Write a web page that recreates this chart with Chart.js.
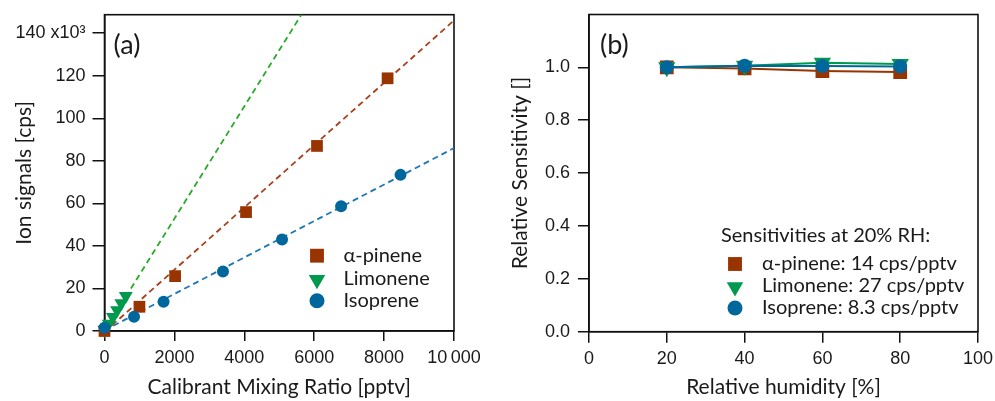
<!DOCTYPE html>
<html><head><meta charset="utf-8">
<script src="https://cdn.jsdelivr.net/npm/chart.js@4/dist/chart.umd.min.js"></script>
<style>
html,body{margin:0;padding:0;background:#fff;}
#wrap{position:relative;width:995px;height:401px;overflow:hidden;background:#fff}
.p{position:absolute;top:0;height:401px}
</style></head><body>
<div id="wrap">
<div class="p" style="left:0;width:497px"><canvas id="ca"></canvas></div>
<div class="p" style="left:497px;width:498px"><canvas id="cb"></canvas></div>
</div>
<script>
// ---- Panel (a): calibration ----
const pineneX = [0, 1000, 2020, 4050, 6080, 8100];
const pineneY = [0, 11.4, 25.8, 55.9, 87.0, 118.8];
const limoneneX = [0, 120, 240, 360, 480, 610];
const limoneneY = [0.5, 3.4, 6.6, 9.8, 13.0, 16.4];
const isopreneX = [0, 845, 1690, 3390, 5080, 6770, 8470];
const isopreneY = [1.5, 6.7, 13.8, 28.0, 43.0, 58.7, 73.4];
const fitX = [0, 10000];
const pineneFitY = [-0.5, 146];
const limoneneFitY = [0, 264];
const isopreneFitY = [0.3, 86];
// ---- Panel (b): humidity dependence ----
const rh = [20, 40, 60, 80];
const pineneRel = [1.0, 0.996, 0.986, 0.982];
const limoneneRel = [1.0, 1.006, 1.017, 1.013];
const isopreneRel = [1.0, 1.006, 1.005, 1.003];
// ---- ticks / labels ----
const xTicksA = [0, 2000, 4000, 6000, 8000, 10000];
const yTicksA = [0, 20, 40, 60, 80, 100, 120, 140];
const xTicksB = [0, 20, 40, 60, 80, 100];
const yTicksB = [0, 0.2, 0.4, 0.6, 0.8, 1.0];
const seriesNames = ['α-pinene', 'Limonene', 'Isoprene'];
const sensitivities = ['14', '27', '8.3'];

const COL = { pin: '#993300', lim: '#00994d', iso: '#00679c' };
const FIT = { pin: '#a8401a', lim: '#2aaa2a', iso: '#1f78b4' };
const TXT = '#1a1a1a';
const TF = 'Lato, "Open Sans", sans-serif';
const NF = '"Liberation Sans", Arial, sans-serif';

const mk = {
  pin: { pointStyle: 'rect', pointRadius: 8.3, pointRotation: 0 },
  lim: { pointStyle: 'triangle', pointRadius: 8, pointRotation: 180 },
  iso: { pointStyle: 'circle', pointRadius: 6, pointRotation: 0 }
};
const pts = (xs, ys) => xs.map((x, i) => ({ x, y: ys[i] }));

function drawMarker(ctx, style, r, rot, x, y, color) {
  ctx.fillStyle = color;
  if (Chart.helpers && Chart.helpers.drawPoint) {
    Chart.helpers.drawPoint(ctx, { pointStyle: style, radius: r, rotation: rot, borderWidth: 0 }, x, y);
    return;
  }
  ctx.beginPath();
  if (style === 'rect') ctx.rect(x - r * 0.707, y - r * 0.707, r * 1.414, r * 1.414);
  else if (style === 'circle') ctx.arc(x, y, r, 0, Math.PI * 2);
  else { ctx.moveTo(x, y + r); ctx.lineTo(x - r * 0.866, y - r / 2); ctx.lineTo(x + r * 0.866, y - r / 2); ctx.closePath(); }
  ctx.fill();
}

const deco = {
  id: 'deco',
  beforeDatasetsDraw(chart, args, o) {
    const { ctx, chartArea: a } = chart;
    ctx.save();
    ctx.strokeStyle = '#111'; ctx.lineWidth = 1.6;
    ctx.strokeRect(a.left, a.top, a.right - a.left, a.bottom - a.top);
    ctx.restore();
  },
  afterDatasetsDraw(chart, args, o) {
    const { ctx, chartArea: a } = chart;
    ctx.save();
    ctx.fillStyle = TXT; ctx.textBaseline = 'middle'; ctx.textAlign = 'left';
    ctx.font = '27px ' + TF;
    ctx.fillText(o.label, a.left + o.labelDx, a.top + o.labelDy);
    ctx.font = o.legendSize + 'px ' + TF;
    if (o.title) ctx.fillText(o.title, a.left + o.titleDx, a.top + o.titleDy);
    o.items.forEach((it, i) => {
      const ds = chart.data.datasets[it.ds];
      const y = a.top + o.ys[i];
      drawMarker(ctx, ds.pointStyle, ds.pointRadius + o.grow, ds.pointRotation, a.left + o.markDx, y + (ds.pointStyle === 'triangle' ? 1 : 0), ds.backgroundColor);
      ctx.fillStyle = TXT;
      ctx.fillText(it.text, a.left + o.textDx, y);
    });
    ctx.restore();
  }
};

function axisCommon(extra) {
  return Object.assign({
    type: 'linear',
    grid: { drawOnChartArea: false, drawTicks: true, color: '#111', lineWidth: 1.5 },
    border: { display: true, color: '#111', width: 1.6 },
    ticks: { color: TXT, font: { family: NF, size: 18 } }
  }, extra);
}
const fitX_ = h => s => { s.height = h; s.paddingLeft = 0; s.paddingRight = 0; };
const fitY_ = w => s => { s.width = w; s.paddingTop = 0; s.paddingBottom = 0; };

// ---------- Chart (a) ----------
new Chart(document.getElementById('ca'), {
  type: 'scatter',
  data: {
    datasets: [
      Object.assign({ label: seriesNames[0], data: pts(pineneX, pineneY), backgroundColor: COL.pin, borderWidth: 0, clip: false, order: 1 }, mk.pin),
      Object.assign({ label: seriesNames[1], data: pts(limoneneX, limoneneY), backgroundColor: COL.lim, borderWidth: 0, clip: false, order: 2 }, mk.lim),
      Object.assign({ label: seriesNames[2], data: pts(isopreneX, isopreneY), backgroundColor: COL.iso, borderWidth: 0, clip: false, order: 0 }, mk.iso),
      { data: pts(fitX, pineneFitY), showLine: true, borderColor: FIT.pin, borderWidth: 1.8, borderDash: [6, 4], pointRadius: 0, order: 5 },
      { data: pts(fitX, limoneneFitY), showLine: true, borderColor: FIT.lim, borderWidth: 1.8, borderDash: [6, 4], pointRadius: 0, order: 5 },
      { data: pts(fitX, isopreneFitY), showLine: true, borderColor: FIT.iso, borderWidth: 1.8, borderDash: [6, 4], pointRadius: 0, order: 5 }
    ]
  },
  options: {
    responsive: true, maintainAspectRatio: false, animation: false,
    layout: { padding: { top: 14.7, right: 43, left: 0, bottom: 0 } },
    plugins: {
      legend: { display: false }, tooltip: { enabled: false },
      deco: {
        label: '(a)', labelDx: 9, labelDy: 31, legendSize: 20, grow: 1.5,
        markDx: 212.5, textDx: 239, ys: [241, 264, 286],
        items: [{ ds: 0, text: seriesNames[0] }, { ds: 1, text: seriesNames[1] }, { ds: 2, text: seriesNames[2] }]
      }
    },
    scales: {
      x: axisCommon({
        min: 0, max: 10000, position: 'bottom',
        afterBuildTicks: s => { s.ticks = xTicksA.map(v => ({ value: v })); },
        afterFit: fitX_(70),
        grid: { drawOnChartArea: false, color: '#111', lineWidth: 1.5, tickLength: 10 },
        ticks: { color: TXT, font: { family: NF, size: 18 }, padding: 6, maxRotation: 0,
          callback: v => v === 10000 ? '10\u2009000' : String(v) },
        title: { display: true, text: 'Calibrant Mixing Ratio [pptv]', color: TXT, font: { family: TF, size: 21 }, padding: { top: 0, bottom: 1 } }
      }),
      y: axisCommon({
        min: 0, max: 148.7, position: 'left',
        afterBuildTicks: s => { s.ticks = yTicksA.map(v => ({ value: v })); },
        afterFit: fitY_(104.5),
        grid: { drawOnChartArea: false, color: '#111', lineWidth: 1.5, tickLength: 12 },
        ticks: { color: TXT, font: { family: NF, size: 18 }, padding: 7,
          callback: v => v === 140 ? '140 x10\u00B3' : String(v) },
        title: { display: true, text: 'Ion signals [cps]', color: TXT, font: { family: TF, size: 21 }, padding: { top: 12, bottom: 0 } }
      })
    }
  },
  plugins: [deco]
});

// ---------- Chart (b) ----------
new Chart(document.getElementById('cb'), {
  type: 'scatter',
  data: {
    datasets: [
      Object.assign({ label: seriesNames[0], data: pts(rh, pineneRel), backgroundColor: COL.pin, borderColor: COL.pin, borderWidth: 2, showLine: true, clip: false, order: 2 }, mk.pin),
      Object.assign({ label: seriesNames[1], data: pts(rh, limoneneRel), backgroundColor: COL.lim, borderColor: COL.lim, borderWidth: 2, showLine: true, clip: false, order: 1 }, mk.lim),
      Object.assign({ label: seriesNames[2], data: pts(rh, isopreneRel), backgroundColor: COL.iso, borderColor: COL.iso, borderWidth: 2, showLine: true, clip: false, order: 0 }, mk.iso)
    ]
  },
  options: {
    responsive: true, maintainAspectRatio: false, animation: false,
    layout: { padding: { top: 14.5, right: 17, left: 0, bottom: 0 } },
    plugins: {
      legend: { display: false }, tooltip: { enabled: false },
      deco: {
        label: '(b)', labelDx: 11, labelDy: 31, legendSize: 20, grow: 1.5,
        title: 'Sensitivities at 20% RH:', titleDx: 132, titleDy: 221.5,
        markDx: 146, textDx: 173, ys: [249.5, 271.5, 293.5],
        items: [0, 1, 2].map(i => ({ ds: i, text: seriesNames[i] + ': ' + sensitivities[i] + ' cps/pptv' }))
      }
    },
    scales: {
      x: axisCommon({
        min: 0, max: 100, position: 'bottom',
        afterBuildTicks: s => { s.ticks = xTicksB.map(v => ({ value: v })); },
        afterFit: fitX_(69.3),
        grid: { drawOnChartArea: false, color: '#111', lineWidth: 1.5, tickLength: 11 },
        ticks: { color: TXT, font: { family: NF, size: 18 }, padding: 6, maxRotation: 0 },
        title: { display: true, text: 'Relative humidity [%]', color: TXT, font: { family: TF, size: 21 }, padding: { top: 0, bottom: 1 } }
      }),
      y: axisCommon({
        min: 0, max: 1.2, position: 'left',
        afterBuildTicks: s => { s.ticks = yTicksB.map(v => ({ value: v })); },
        afterFit: fitY_(92),
        grid: { drawOnChartArea: false, color: '#111', lineWidth: 1.5, tickLength: 11 },
        ticks: { color: TXT, font: { family: NF, size: 18 }, padding: 8, callback: v => v.toFixed(1) },
        title: { display: true, text: 'Relative Sensitivity []', color: TXT, font: { family: TF, size: 21 }, padding: { top: 11, bottom: 0 } }
      })
    }
  },
  plugins: [deco]
});
</script>
</body></html>
